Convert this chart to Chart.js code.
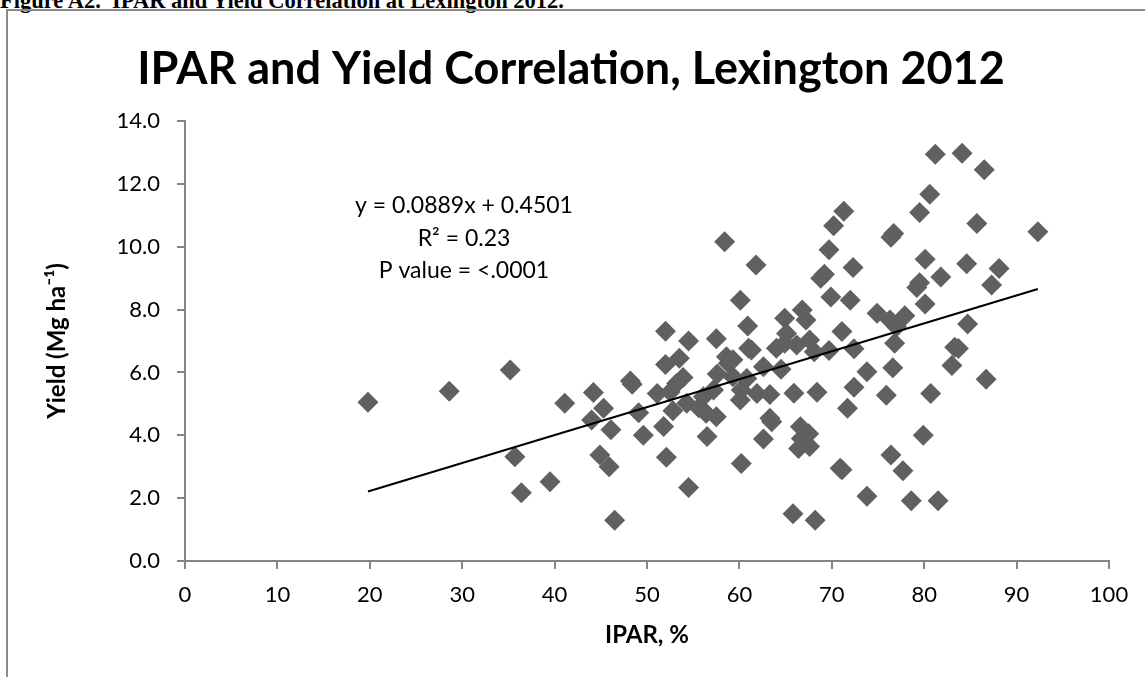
<!DOCTYPE html>
<html>
<head>
<meta charset="utf-8">
<title>IPAR and Yield Correlation, Lexington 2012</title>
<script src="https://cdn.jsdelivr.net/npm/chart.js@4.4.0/dist/chart.umd.min.js"></script>
<style>
  html, body { margin: 0; padding: 0; background: #fff; overflow: hidden; }
  #page { position: relative; width: 1145px; height: 677px; overflow: hidden; }
  #caption {
    position: absolute; left: 0; top: -11px;
    font: bold 22.5px/23px "Liberation Serif", "Times New Roman", serif;
    white-space: nowrap; color: #000;
  }
  #frame {
    position: absolute; left: 6px; top: 9px; width: 1200px; height: 800px;
    border-left: 2px solid #8a8a8a; border-top: 2px solid #8a8a8a;
  }
  #wrap { position: absolute; left: 0; top: 0; width: 1145px; height: 677px; }
</style>
</head>
<body>
<div id="page">
  <div id="caption">Figure A2.&nbsp; IPAR and Yield Correlation at Lexington 2012.</div>
  <div id="frame"></div>
  <div id="wrap"><canvas id="myChart" width="1145" height="677"></canvas></div>
</div>
<script>
// Intercepted PAR (%) and grain yield (Mg/ha), one entry per plot
const ipar = [
  19.8, 28.6, 35.2, 35.7, 36.4, 39.5, 41.1, 44.0, 44.2, 44.9,
  45.3, 45.9, 46.1, 46.5, 48.2, 48.4, 49.1, 49.6, 51.1, 51.8,
  52.0, 52.0, 52.1, 52.5, 52.8, 53.2, 53.5, 53.9, 54.3, 54.5,
  54.5, 55.6, 56.1, 56.4, 56.5, 57.2, 57.5, 57.5, 57.6, 58.4,
  58.6, 58.8, 59.3, 59.3, 60.1, 60.2, 60.1, 60.2, 60.8, 60.9,
  61.0, 61.3, 61.8, 61.9, 62.6, 62.6, 63.3, 63.3, 63.5, 64.0,
  64.5, 64.9, 65.1, 64.9, 65.8, 65.9, 66.2, 66.4, 66.6, 66.7,
  66.8, 67.2, 67.5, 67.6, 67.6, 68.1, 68.2, 68.4, 68.8, 69.2,
  69.7, 69.7, 69.9, 70.2, 70.9, 71.1, 71.1, 71.3, 71.7, 72.0,
  72.3, 72.4, 72.4, 73.8, 73.8, 74.9, 75.9, 76.3, 76.4, 76.4,
  76.6, 76.7, 76.8, 77.0, 77.7, 77.9, 78.6, 79.2, 79.5, 79.5,
  79.9, 80.1, 80.1, 80.6, 80.7, 81.2, 81.5, 81.8, 83.0, 83.3,
  83.7, 84.1, 84.6, 84.7, 85.7, 86.5, 86.7, 87.3, 88.1, 92.3
];
const yieldMg = [
  5.05, 5.40, 6.08, 3.32, 2.17, 2.52, 5.02, 4.49, 5.36, 3.37,
  4.86, 3.00, 4.18, 1.30, 5.73, 5.62, 4.72, 4.00, 5.33, 4.28,
  7.31, 6.25, 3.30, 5.38, 4.78, 5.65, 6.45, 5.84, 5.02, 7.00,
  2.34, 4.88, 5.23, 4.70, 3.96, 5.44, 4.59, 7.07, 5.95, 10.16,
  6.50, 6.29, 6.40, 5.86, 8.30, 5.44, 5.12, 3.10, 5.81, 7.48,
  6.77, 6.71, 9.42, 5.33, 6.18, 3.88, 5.30, 4.54, 4.43, 6.77,
  6.10, 7.72, 7.24, 6.93, 1.50, 5.34, 6.87, 3.58, 4.27, 3.90,
  7.99, 7.67, 4.05, 3.64, 7.03, 6.66, 1.30, 5.37, 9.00, 9.12,
  9.90, 6.70, 8.40, 10.67, 2.95, 2.90, 7.30, 11.13, 4.86, 8.30,
  9.34, 5.53, 6.75, 6.02, 2.06, 7.88, 5.27, 7.67, 3.37, 10.30,
  6.15, 10.42, 6.93, 7.45, 2.87, 7.80, 1.92, 8.70, 11.09, 8.85,
  4.00, 9.60, 8.18, 11.67, 5.33, 12.94, 1.92, 9.04, 6.22, 6.80,
  6.76, 12.97, 9.46, 7.54, 10.74, 12.45, 5.78, 8.78, 9.31, 10.48
];

// Linear fit reported on the chart
const trendSlope = 0.0889;
const trendIntercept = 0.4501;
const statLines = ['y = 0.0889x + 0.4501', 'R\u00B2 = 0.23', 'P value = <.0001'];

const points = ipar.map((x, i) => ({ x: x, y: yieldMg[i] }));
const xLo = Math.min(...ipar);
const xHi = Math.max(...ipar);
const trend = [xLo, xHi].map(x => ({ x: x, y: trendSlope * x + trendIntercept }));

const AXIS_GREY = '#868686';
const FONT = 'Lato, "Open Sans", sans-serif';

// Regression text block in the upper left of the plot
const statsLabel = {
  id: 'statsLabel',
  afterDatasetsDraw(chart) {
    const ctx = chart.ctx;
    ctx.save();
    ctx.font = '23px ' + FONT;
    ctx.fillStyle = '#000';
    ctx.textAlign = 'center';
    ctx.textBaseline = 'middle';
    statLines.forEach((t, i) => ctx.fillText(t, 464, 206 + i * 32.5));
    ctx.restore();
  }
};

new Chart(document.getElementById('myChart'), {
  type: 'scatter',
  data: {
    datasets: [
      {
        type: 'line',
        label: 'Linear fit',
        data: trend,
        borderColor: '#000',
        borderWidth: 2,
        pointRadius: 0,
        fill: false
      },
      {
        label: 'Yield',
        data: points,
        pointStyle: 'rectRot',
        pointRadius: 10.5,
        pointHoverRadius: 10.5,
        backgroundColor: '#606060',
        borderColor: '#606060',
        borderWidth: 0
      }
    ]
  },
  options: {
    responsive: false,
    animation: false,
    layout: { padding: { left: 33, right: 36, top: 0, bottom: 0 } },
    plugins: {
      legend: { display: false },
      tooltip: { enabled: false },
      title: {
        display: true,
        text: 'IPAR and Yield Correlation, Lexington 2012',
        color: '#000',
        font: { family: FONT, size: 45, weight: 'bold' },
        padding: { top: 42, bottom: 25 }
      }
    },
    scales: {
      x: {
        type: 'linear',
        min: 0,
        max: 100,
        afterFit: s => { s.height = 677 - 561; },
        border: { color: AXIS_GREY, width: 2 },
        grid: { drawOnChartArea: false, tickLength: 8, color: AXIS_GREY, lineWidth: 2 },
        ticks: { stepSize: 10, color: '#000', padding: 13, font: { family: FONT, size: 22 } },
        title: {
          display: true,
          text: 'IPAR, %',
          color: '#000',
          font: { family: FONT, size: 24, weight: 'bold' },
          padding: { top: 0, bottom: 27 }
        }
      },
      y: {
        type: 'linear',
        min: 0,
        max: 14,
        afterFit: s => { s.width = 185 - 33; },
        border: { color: AXIS_GREY, width: 2 },
        grid: { drawOnChartArea: false, tickLength: 8, color: AXIS_GREY, lineWidth: 2 },
        ticks: {
          stepSize: 2,
          color: '#000',
          padding: 17,
          font: { family: FONT, size: 22 },
          callback: v => v.toFixed(1)
        },
        title: {
          display: true,
          text: 'Yield (Mg ha\u207B\u00B9)',
          color: '#000',
          font: { family: FONT, size: 24, weight: 'bold' },
          padding: { top: 10, bottom: 0 }
        }
      }
    }
  },
  plugins: [statsLabel]
});
</script>
</body>
</html>
